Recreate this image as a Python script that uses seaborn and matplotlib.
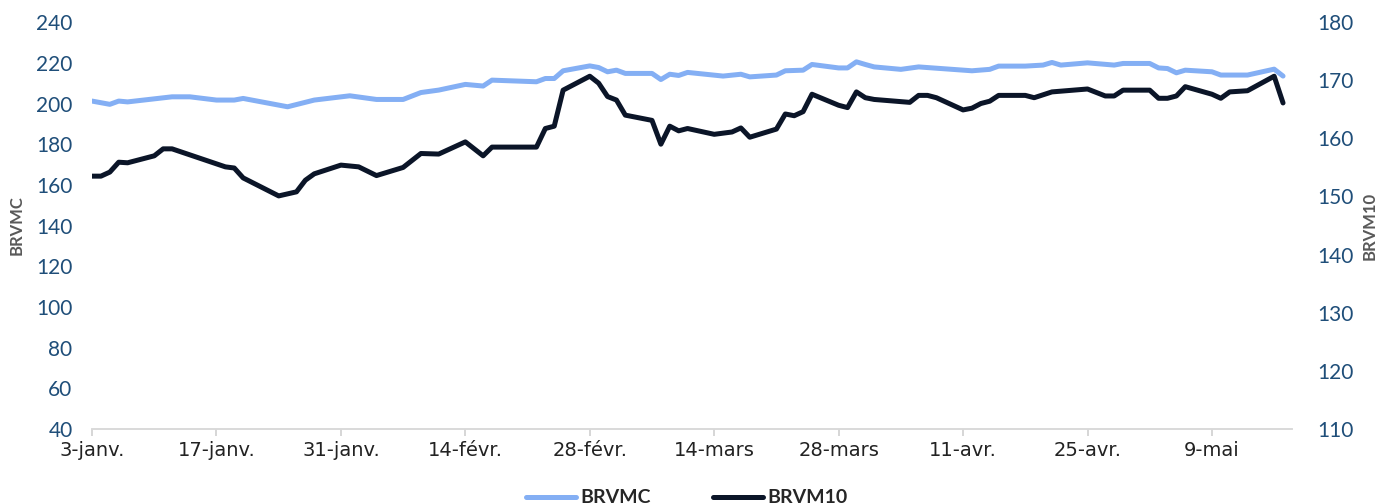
"""
plot.py
-------
BRVMC vs BRVM10 daily levels, Jan-May 2022, twin y axes.
"""

import pandas as pd
import matplotlib
matplotlib.use("Agg")
import matplotlib.pyplot as plt
import seaborn as sns

# BRVM Composite (left axis)
brvmc_dates = [
    "2022-01-03", "2022-01-05", "2022-01-06", "2022-01-07", "2022-01-12", "2022-01-14",
    "2022-01-17", "2022-01-19", "2022-01-20", "2022-01-25", "2022-01-28", "2022-02-01",
    "2022-02-04", "2022-02-07", "2022-02-09", "2022-02-11", "2022-02-14", "2022-02-16",
    "2022-02-17", "2022-02-22", "2022-02-23", "2022-02-24", "2022-02-25", "2022-02-28",
    "2022-03-01", "2022-03-02", "2022-03-03", "2022-03-04", "2022-03-07", "2022-03-08",
    "2022-03-09", "2022-03-10", "2022-03-11", "2022-03-15", "2022-03-17", "2022-03-18",
    "2022-03-21", "2022-03-22", "2022-03-24", "2022-03-25", "2022-03-28", "2022-03-29",
    "2022-03-30", "2022-03-31", "2022-04-01", "2022-04-04", "2022-04-06", "2022-04-12",
    "2022-04-14", "2022-04-15", "2022-04-18", "2022-04-20", "2022-04-21", "2022-04-22",
    "2022-04-25", "2022-04-28", "2022-04-29", "2022-05-02", "2022-05-03", "2022-05-04",
    "2022-05-05", "2022-05-06", "2022-05-09", "2022-05-10", "2022-05-13", "2022-05-16",
    "2022-05-17",
]
brvmc_values = [
    201.2, 199.6, 201.2, 200.8, 203.3, 203.3,
    201.7, 201.7, 202.5, 198.4, 201.7, 203.8,
    202.0, 202.0, 205.4, 206.6, 209.4, 208.6,
    211.5, 210.7, 212.3, 212.3, 216.1, 218.5,
    217.7, 215.6, 216.4, 214.8, 214.8, 211.8,
    214.4, 213.8, 215.3, 213.5, 214.4, 213.1,
    214.0, 216.1, 216.4, 219.2, 217.5, 217.5,
    220.5, 219.2, 218.0, 216.8, 218.0, 216.1,
    216.8, 218.4, 218.4, 218.9, 220.2, 218.9,
    220.0, 218.9, 219.7, 219.7, 217.5, 217.2,
    215.1, 216.4, 215.6, 214.0, 214.0, 216.9,
    213.5,
]

# BRVM 10 (right axis)
brvm10_dates = [
    "2022-01-03", "2022-01-04", "2022-01-05", "2022-01-06", "2022-01-07", "2022-01-10",
    "2022-01-11", "2022-01-12", "2022-01-18", "2022-01-19", "2022-01-20", "2022-01-24",
    "2022-01-26", "2022-01-27", "2022-01-28", "2022-01-31", "2022-02-02", "2022-02-04",
    "2022-02-07", "2022-02-09", "2022-02-11", "2022-02-14", "2022-02-16", "2022-02-17",
    "2022-02-22", "2022-02-23", "2022-02-24", "2022-02-25", "2022-02-28", "2022-03-01",
    "2022-03-02", "2022-03-03", "2022-03-04", "2022-03-07", "2022-03-08", "2022-03-09",
    "2022-03-10", "2022-03-11", "2022-03-14", "2022-03-16", "2022-03-17", "2022-03-18",
    "2022-03-21", "2022-03-22", "2022-03-23", "2022-03-24", "2022-03-25", "2022-03-28",
    "2022-03-29", "2022-03-30", "2022-03-31", "2022-04-01", "2022-04-05", "2022-04-06",
    "2022-04-07", "2022-04-08", "2022-04-11", "2022-04-12", "2022-04-13", "2022-04-14",
    "2022-04-15", "2022-04-18", "2022-04-19", "2022-04-21", "2022-04-25", "2022-04-27",
    "2022-04-28", "2022-04-29", "2022-05-02", "2022-05-03", "2022-05-04", "2022-05-05",
    "2022-05-06", "2022-05-09", "2022-05-10", "2022-05-11", "2022-05-13", "2022-05-16",
    "2022-05-17",
]
brvm10_values = [
    153.5, 153.5, 154.2, 155.9, 155.8, 157.0,
    158.2, 158.2, 155.1, 154.9, 153.2, 150.1,
    150.8, 152.8, 153.9, 155.4, 155.1, 153.6,
    155.0, 157.4, 157.3, 159.4, 157.0, 158.5,
    158.5, 161.7, 162.1, 168.3, 170.7, 169.5,
    167.2, 166.6, 164.0, 163.1, 159.0, 162.1,
    161.3, 161.7, 160.7, 161.1, 161.8, 160.2,
    161.6, 164.2, 163.9, 164.6, 167.6, 165.7,
    165.3, 168.0, 167.0, 166.7, 166.2, 167.4,
    167.4, 167.0, 164.9, 165.2, 166.0, 166.4,
    167.4, 167.4, 167.0, 168.0, 168.5, 167.3,
    167.3, 168.3, 168.3, 166.9, 166.9, 167.3,
    168.9, 167.6, 166.9, 168.0, 168.2, 170.7,
    166.1,
]

tick_dates = [
    "2022-01-03", "2022-01-17", "2022-01-31", "2022-02-14", "2022-02-28",
    "2022-03-14", "2022-03-28", "2022-04-11", "2022-04-25", "2022-05-09",
]
tick_labels = [
    "3-janv.", "17-janv.", "31-janv.", "14-févr.", "28-févr.",
    "14-mars", "28-mars", "11-avr.", "25-avr.", "9-mai",
]

LIGHT = "#84AFF4"
DARK = "#0B1528"
TICK_BLUE = "#1F4E79"
GREY = "#595959"

sns.set_theme(style="white")
plt.rcParams["font.family"] = ["Lato", "DejaVu Sans"]

df_c = pd.DataFrame({"date": pd.to_datetime(brvmc_dates), "value": brvmc_values})
df_10 = pd.DataFrame({"date": pd.to_datetime(brvm10_dates), "value": brvm10_values})

fig = plt.figure(figsize=(13.76, 5.04), dpi=100)
ax = fig.add_axes([0.0669, 0.149, 0.872, 0.807])
ax2 = ax.twinx()

sns.lineplot(data=df_c, x="date", y="value", ax=ax, color=LIGHT, linewidth=3.6,
             label="BRVMC", legend=False)
sns.lineplot(data=df_10, x="date", y="value", ax=ax2, color=DARK, linewidth=3.6,
             label="BRVM10", legend=False)

ax.set_ylim(40, 240)
ax.set_yticks(range(40, 241, 20))
ax2.set_ylim(110, 180)
ax2.set_yticks(range(110, 181, 10))
ax.set_xlim(pd.Timestamp("2022-01-03"), pd.Timestamp("2022-05-18"))

ax.set_xticks(pd.to_datetime(tick_dates))
ax.set_xticklabels(tick_labels, family="Liberation Sans Narrow", fontsize=14, color="#222222")

ax.tick_params(axis="y", labelsize=15, labelcolor=TICK_BLUE, length=0, pad=14)
ax2.tick_params(axis="y", labelsize=15, labelcolor=TICK_BLUE, length=0, pad=18)
ax.tick_params(axis="x", bottom=True, length=5, color="#D0D0D0", width=1.2, pad=4)

ax.set_xlabel("")
ax.set_ylabel("BRVMC", fontsize=12, fontweight="bold", color=GREY, labelpad=8)
ax2.set_ylabel("BRVM10", fontsize=12, fontweight="bold", color=GREY, rotation=90, labelpad=6)

for a in (ax, ax2):
    for side in ("left", "right", "top"):
        a.spines[side].set_visible(False)
    a.spines["bottom"].set_color("#D9D9D9")
    a.spines["bottom"].set_linewidth(1.2)
    a.grid(False)

h1, l1 = ax.get_legend_handles_labels()
h2, l2 = ax2.get_legend_handles_labels()
fig.legend(h1 + h2, l1 + l2, loc="center", bbox_to_anchor=(0.499, 0.012), ncol=2,
           frameon=False, handlelength=2.6, columnspacing=3.2, handletextpad=0.2,
           prop={"weight": "bold", "size": 14})

fig.savefig("out.png", dpi=100)
